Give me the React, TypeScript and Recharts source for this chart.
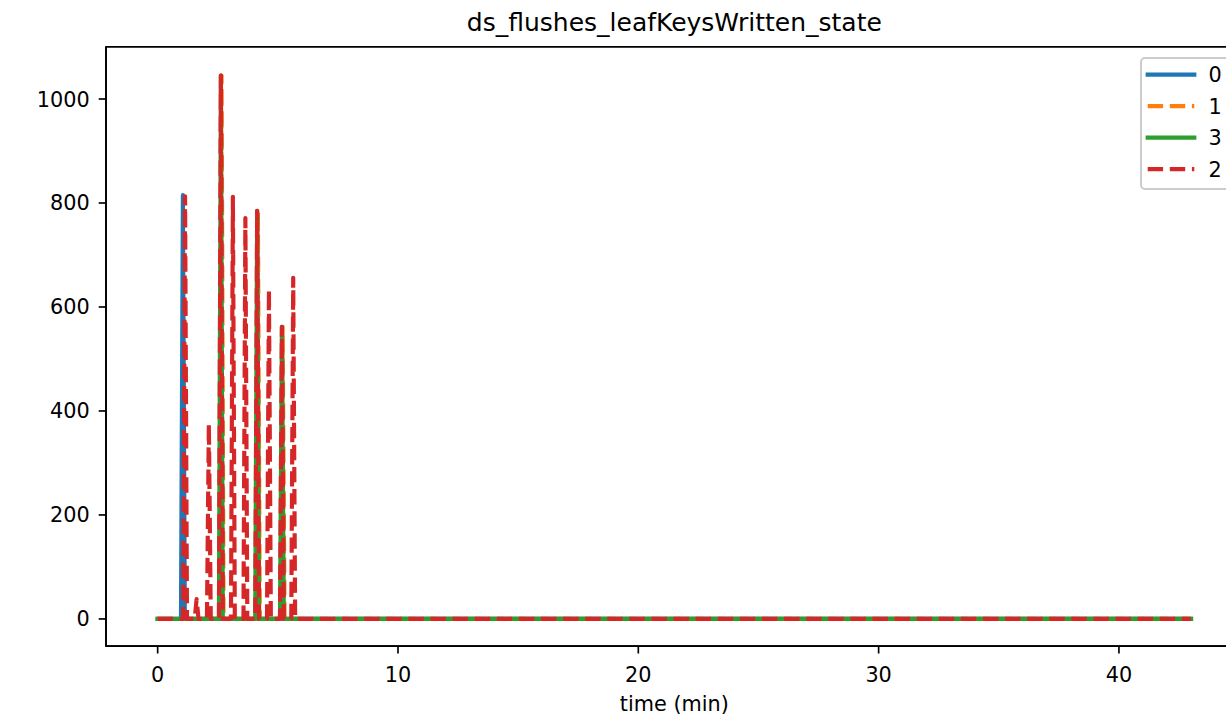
import React from "react";
import { LineChart, Line, XAxis, YAxis, Legend, ReferenceArea } from "recharts";

const chartTitle = "ds_flushes_leafKeysWritten_state";
const xLabel = "time (min)";
const xTicks = [0, 10, 20, 30, 40];
const yTicks = [0, 200, 400, 600, 800, 1000];

// series "0"
const s0Time = [0, 0.97, 1.05, 1.13, 43.0];
const s0Value = [0, 0, 815, 0, 0];

// series "1"
const s1Time = [0, 2.58, 2.66, 2.74, 4.09, 4.17, 4.25, 5.12, 5.2, 5.28, 43.0];
const s1Value = [0, 0, 1045, 0, 0, 785, 0, 0, 562, 0, 0];

// series "3"
const s3Time = [0, 2.55, 2.63, 2.71, 4.06, 4.14, 4.22, 5.09, 5.17, 5.25, 43.0];
const s3Value = [0, 0, 1045, 0, 0, 785, 0, 0, 562, 0, 0];

// series "2"
const s2Time = [
  0, 1.06, 1.14, 1.22, 1.54, 1.62, 1.7, 2.05, 2.13, 2.21, 2.55, 2.63, 2.71,
  3.05, 3.13, 3.21, 3.57, 3.65, 3.73, 4.06, 4.14, 4.22, 4.55, 4.63, 4.71,
  5.09, 5.17, 5.25, 5.56, 5.64, 5.72, 43.0,
];
const s2Value = [
  0, 0, 813, 0, 0, 38, 0, 0, 375, 0, 0, 1045, 0,
  0, 812, 0, 0, 771, 0, 0, 785, 0, 0, 633, 0,
  0, 562, 0, 0, 656, 0, 0,
];

const seriesNames = ["0", "1", "3", "2"];
const seriesColors = ["#1f77b4", "#ff7f0e", "#2ca02c", "#d62728"];
const seriesDashed = [false, true, false, true];

const zip = (t: number[], v: number[]) => t.map((x, i) => ({ t: x, v: v[i] }));
const seriesData = [zip(s0Time, s0Value), zip(s1Time, s1Value), zip(s3Time, s3Value), zip(s2Time, s2Value)];

const W = 1260;
const H = 716;
const PLOT_LEFT = 106;
const PLOT_TOP = 46.8;
const PLOT_RIGHT = 1242.7;
const PLOT_BOTTOM = 646.2;
const X_DOMAIN: [number, number] = [-2.15, 45.15];
const Y_DOMAIN: [number, number] = [-52.4, 1100.4];

const FONT = "DejaVu Sans";
const LW = 4.17;
const DASH = "15.4 6.7";
const SPINE = 1.67;

const XTick = (props: any) => (
  <text x={props.x} y={PLOT_BOTTOM + 35.5} textAnchor="middle" fontSize={20.8} fontFamily={FONT} fill="#000">
    {props.payload.value}
  </text>
);

const YTick = (props: any) => (
  <text x={PLOT_LEFT - 16.2} y={props.y + 7.5} textAnchor="end" fontSize={20.8} fontFamily={FONT} fill="#000">
    {props.payload.value}
  </text>
);

const XLabel = (props: any) => {
  const vb = props.viewBox || {};
  return (
    <text x={vb.x + vb.width / 2} y={711} textAnchor="middle" fontSize={20.8} fontFamily={FONT} fill="#000">
      {xLabel}
    </text>
  );
};

const renderLegend = () => (
  <svg width={100} height={140} style={{ display: "block" }}>
    <rect x={1} y={1} width={91} height={131} rx={4} fill="#fff" fillOpacity={0.8} stroke="#cccccc" strokeWidth={2} />
    {seriesNames.map((name, i) => {
      const cy = 17.7 + i * 31.5;
      return (
        <g key={name}>
          <line
            x1={7.7}
            x2={54.3}
            y1={cy}
            y2={cy}
            stroke={seriesColors[i]}
            strokeWidth={LW}
            strokeDasharray={seriesDashed[i] ? DASH : undefined}
            strokeLinecap={seriesDashed[i] ? "butt" : "square"}
          />
          <text x={68.5} y={cy + 7.5} fontSize={20.8} fontFamily={FONT} fill="#000">
            {name}
          </text>
        </g>
      );
    })}
  </svg>
);

export default function App() {
  return (
    <div style={{ position: "absolute", left: 0, top: 0, width: 1226, height: 716, overflow: "hidden", background: "#fff" }}>
      <LineChart
        width={W}
        height={H}
        margin={{ top: PLOT_TOP, right: W - PLOT_RIGHT, bottom: 0, left: 0 }}
      >
        <XAxis
          dataKey="t"
          type="number"
          domain={X_DOMAIN}
          allowDataOverflow
          ticks={xTicks}
          tick={<XTick />}
          tickSize={7.3}
          tickLine={{ stroke: "#000", strokeWidth: SPINE }}
          axisLine={{ stroke: "#000", strokeWidth: SPINE }}
          height={H - PLOT_BOTTOM}
          label={<XLabel />}
        />
        <YAxis
          type="number"
          domain={Y_DOMAIN}
          allowDataOverflow
          ticks={yTicks}
          tick={<YTick />}
          tickSize={7.3}
          tickLine={{ stroke: "#000", strokeWidth: SPINE }}
          axisLine={{ stroke: "#000", strokeWidth: SPINE }}
          width={PLOT_LEFT}
        />
        <ReferenceArea
          x1={X_DOMAIN[0]}
          x2={X_DOMAIN[1]}
          y1={Y_DOMAIN[0]}
          y2={Y_DOMAIN[1]}
          fill="none"
          stroke="#000"
          strokeWidth={SPINE}
          ifOverflow="visible"
        />
        {seriesNames.map((name, i) => (
          <Line
            key={name}
            data={seriesData[i]}
            dataKey="v"
            name={name}
            type="linear"
            stroke={seriesColors[i]}
            strokeWidth={LW}
            strokeDasharray={seriesDashed[i] ? DASH : undefined}
            strokeLinecap={seriesDashed[i] ? "butt" : "square"}
            strokeLinejoin="round"
            dot={false}
            activeDot={false}
            isAnimationActive={false}
          />
        ))}
        <Legend
          layout="horizontal"
          verticalAlign="middle"
          align="center"
          content={renderLegend}
          wrapperStyle={{ position: "absolute", left: 1140, top: 57.3, width: 100, height: 140 }}
        />
      </LineChart>
      <svg width={1226} height={46} style={{ position: "absolute", left: 0, top: 0 }}>
        <text x={(PLOT_LEFT + PLOT_RIGHT) / 2} y={31} textAnchor="middle" fontSize={25} fontFamily={FONT} fill="#000">
          {chartTitle}
        </text>
      </svg>
    </div>
  );
}
